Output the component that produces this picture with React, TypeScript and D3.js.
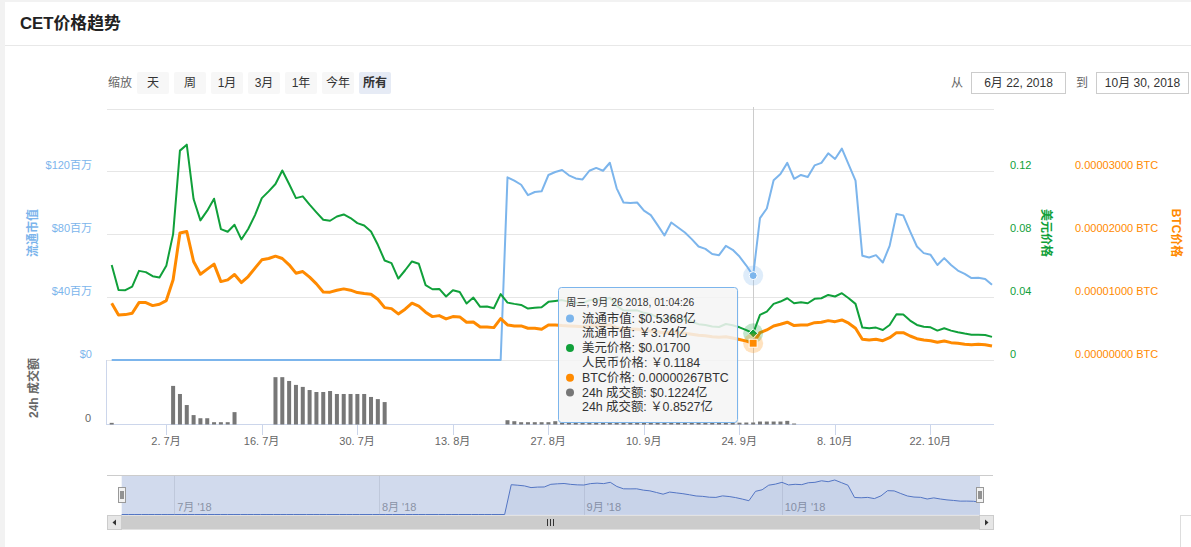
import React from 'react';
import * as d3 from 'd3';

const W = 1191;
const H = 547;

// first data point, one point per day
const startDay = new Date(2018, 5, 24, 1, 4, 26);
const hoverIndex = 94;
const cnyRate = 6.966;

// 流通市值 (百万 USD)
const marketCap = [
  0, 0, 0, 0, 0, 0, 0, 0, 0, 0, 0, 0, 0, 0, 0, 0, 0, 0, 0, 0,
  0, 0, 0, 0, 0, 0, 0, 0, 0, 0, 0, 0, 0, 0, 0, 0, 0, 0, 0, 0,
  0, 0, 0, 0, 0, 0, 0, 0, 0, 0, 0, 0, 0, 0, 0, 0, 0, 0,
  116.2, 114.1, 111.5, 104.9, 106.9, 107.3, 117.7, 119.6, 120.9, 117.5,
  115.5, 114.9, 120.4, 122.2, 120.4, 125.5, 109.2, 100.2, 99.9, 100.2,
  95.0, 92.2, 85.8, 79.2, 87.5, 84.3, 81.1, 76.9, 72.2, 70.7,
  67.4, 66.7, 72.6, 70.1, 65.8, 60.1, 53.68, 90.3, 96.4, 114.3,
  118.3, 125.4, 115.3, 117.7, 116.4, 123.8, 125.4, 131.5, 127.9, 134.5,
  124.3, 114.1, 66.3, 65.2, 66.7, 62.0, 72.6, 92.9, 92.0, 81.8,
  72.2, 68.0, 66.9, 60.4, 64.8, 60.4, 56.9, 54.8, 52.1, 52.3,
  51.6, 47.8,
];

// 美元价格
const usdPrice = [
  0.0604, 0.0446, 0.0444, 0.0467, 0.0567, 0.0559, 0.0533, 0.0525, 0.0599, 0.0801,
  0.1332, 0.1370, 0.1024, 0.0888, 0.0950, 0.1026, 0.0833, 0.0816, 0.0860, 0.0767,
  0.0833, 0.0922, 0.1030, 0.1073, 0.1120, 0.1206, 0.1120, 0.1030, 0.1041, 0.0988,
  0.0939, 0.0892, 0.0886, 0.0913, 0.0926, 0.0903, 0.0871, 0.0856, 0.0818, 0.0733,
  0.0633, 0.0616, 0.0518, 0.0571, 0.0627, 0.0612, 0.0476, 0.0450, 0.0452, 0.0404,
  0.0444, 0.0433, 0.0359, 0.0397, 0.0338, 0.0340, 0.0329, 0.0419, 0.0365, 0.0357,
  0.0350, 0.0327, 0.0333, 0.0336, 0.0370, 0.0376, 0.0381, 0.0371, 0.0364, 0.0362,
  0.0380, 0.0385, 0.0380, 0.0396, 0.0344, 0.0316, 0.0315, 0.0316, 0.0300, 0.0291,
  0.0271, 0.0250, 0.0276, 0.0266, 0.0256, 0.0243, 0.0228, 0.0223, 0.0213, 0.0210,
  0.0229, 0.0221, 0.0208, 0.0190, 0.0170, 0.0287, 0.0308, 0.0357, 0.0372, 0.0393,
  0.0361, 0.0368, 0.0361, 0.0389, 0.0393, 0.0414, 0.0404, 0.0425, 0.0393, 0.0357,
  0.0206, 0.0202, 0.0206, 0.0191, 0.0223, 0.0291, 0.0289, 0.0251, 0.0223, 0.0212,
  0.0208, 0.0187, 0.0202, 0.0187, 0.0176, 0.0168, 0.0161, 0.0161, 0.0159, 0.0147,
];

// BTC价格 (satoshi)
const btcPriceSat = [
  903, 717, 722, 744, 913, 913, 865, 887, 945, 1275,
  2019, 2044, 1566, 1365, 1445, 1525, 1247, 1275, 1359, 1232,
  1327, 1461, 1593, 1614, 1652, 1614, 1514, 1381, 1407, 1318,
  1211, 1083, 1079, 1110, 1131, 1110, 1072, 1056, 1047, 967,
  833, 817, 733, 808, 903, 856, 760, 690, 706, 653,
  690, 685, 601, 605, 526, 526, 515, 658, 558, 542,
  542, 505, 505, 489, 558, 558, 547, 540, 535, 530,
  540, 545, 540, 560, 515, 490, 495, 490, 470, 460,
  450, 430, 445, 435, 425, 410, 395, 385, 370, 360,
  370, 350, 325, 300, 267, 435, 478, 542, 569, 601,
  547, 558, 558, 594, 601, 626, 610, 637, 585, 505,
  330, 319, 330, 307, 355, 435, 435, 382, 339, 319,
  307, 282, 303, 276, 266, 250, 244, 250, 244, 223,
];

// 24h 成交额 (百万 USD)
const volume = [
  10, 0, 0, 0, 0, 0, 0, 0, 0, 234,
  185, 118, 57, 38, 38, 14, 14, 14, 75, 0,
  0, 0, 0, 0, 287, 287, 264, 240, 228, 209,
  197, 197, 203, 185, 185, 185, 185, 185, 167, 154,
  136, 0, 0, 0, 0, 0, 0, 0, 0, 0,
  0, 0, 0, 0, 0, 0, 0, 0, 26, 20,
  14, 14, 14, 14, 14, 20, 12, 12, 12, 12,
  12, 11, 12, 11, 12, 12, 11, 12, 12, 11,
  12, 12, 11, 12, 12, 11, 12, 12, 12, 11,
  12, 12, 11, 12, 12.241, 18, 18, 18, 18, 22,
  6, 0, 0, 0, 0, 0, 0, 0, 0, 0,
  0, 0, 0, 0, 0, 0, 0, 0, 0, 0,
  0, 0, 0, 0, 0, 0, 0, 0, 0, 0,
];

const xTickDates = [
  new Date(2018, 6, 2), new Date(2018, 6, 16), new Date(2018, 6, 30),
  new Date(2018, 7, 13), new Date(2018, 7, 27), new Date(2018, 8, 10),
  new Date(2018, 8, 24), new Date(2018, 9, 8), new Date(2018, 9, 22),
];
const navMonths = [new Date(2018, 6, 1), new Date(2018, 7, 1), new Date(2018, 8, 1), new Date(2018, 9, 1)];
const capTicks = [0, 40, 80, 120];
const usdTicks = [0, 0.04, 0.08, 0.12];
const btcTicks = [0, 1000, 2000, 3000];
const gridTicks = [0, 40, 80, 120, 160];
const rangeButtons = ['天', '周', '1月', '3月', '1年', '今年', '所有'];

const BLUE = '#7cb5ec';
const GREEN = '#10a03a';
const ORANGE = '#ff8a00';
const GRAY = '#777777';
const FONT = "'Liberation Sans', 'Noto Sans CJK SC', sans-serif";

const dates = marketCap.map((_, i) =>
  new Date(startDay.getFullYear(), startDay.getMonth(), startDay.getDate() + i, 1, 4, 26));

const weekDays = ['周日', '周一', '周二', '周三', '周四', '周五', '周六'];
const pad = (n: number) => String(n).padStart(2, '0');

export default function App() {
  const x = d3.scaleTime().domain([dates[0], dates[dates.length - 1]]).range([111.7, 992]);
  const yCap = d3.scaleLinear().domain([0, 160]).range([360, 108.5]);
  const yUsd = d3.scaleLinear().domain([0, 0.16]).range([360, 108.5]);
  const yBtc = d3.scaleLinear().domain([0, 4000]).range([360, 108.5]);
  const yVol = d3.scaleLinear().domain([0, 385]).range([424.5, 361]);

  const lineOf = (vals: number[], y: d3.ScaleLinear<number, number>) =>
    d3.line<number>().x((_, i) => x(dates[i])).y((v) => y(v))(vals) || '';

  // navigator
  const navX = d3.scaleTime()
    .domain([d3.timeDay.offset(dates[0], -1), dates[dates.length - 1]])
    .range([121.7, 980]);
  const navY = d3.scaleLinear().domain([0, d3.max(marketCap) as number]).range([514.5, 480]);
  const navPts: [number, number][] = [[navX.range()[0], navY(marketCap[0])],
    ...marketCap.map((v, i) => [navX(dates[i]), navY(v)] as [number, number])];
  const navLine = d3.line()(navPts) || '';
  const navArea = d3.area().y0(514.5)(navPts) || '';

  const h = hoverIndex;
  const hx = x(dates[h]);
  const hd = dates[h];
  const header = `${weekDays[hd.getDay()]}, ${hd.getMonth() + 1}月 ${hd.getDate()} ${hd.getFullYear()}, ${pad(hd.getHours())}:${pad(hd.getMinutes())}:${pad(hd.getSeconds())}`;
  const rows: [string | null, string][] = [
    [BLUE, `流通市值: $${(marketCap[h] / 100).toFixed(4)}亿`],
    [null, `流通市值: ￥${(marketCap[h] * cnyRate / 100).toFixed(2)}亿`],
    [GREEN, `美元价格: $${usdPrice[h].toFixed(5)}`],
    [null, `人民币价格: ￥${(usdPrice[h] * cnyRate).toFixed(4)}`],
    [ORANGE, `BTC价格: ${(btcPriceSat[h] / 1e8).toFixed(8)}BTC`],
    [GRAY, `24h 成交额: $${(volume[h] / 100).toFixed(4)}亿`],
    [null, `24h 成交额: ￥${(volume[h] * cnyRate / 100).toFixed(4)}亿`],
  ];

  const hyCap = yCap(marketCap[h]);
  const hyUsd = yUsd(usdPrice[h]);
  const hyBtc = yBtc(btcPriceSat[h]);

  return (
    <div style={{ position: 'absolute', left: 0, top: 0 }}>
      <svg width={W} height={H} style={{ display: 'block', fontFamily: FONT }}>
        <rect width={W} height={H} fill="#f2f2f2" />
        <rect x={5} y={2} width={W} height={H} fill="#fff" />
        <text x={20} y={29} fontSize={16.8} fontWeight="bold" fill="#222">CET价格趋势</text>
        <line x1={5} x2={W} y1={45.5} y2={45.5} stroke="#e8e8e8" />

        {/* range selector */}
        <text x={108} y={87} fontSize={12} fill="#666">缩放</text>
        {rangeButtons.map((b, i) => {
          const bx = 137 + i * 37;
          const sel = i === rangeButtons.length - 1;
          return (
            <g key={b}>
              <rect x={bx} y={72} width={32} height={22} rx={2} fill={sel ? '#e6ebf5' : '#f7f7f7'} />
              <text x={bx + 16} y={87} fontSize={12} textAnchor="middle" fill="#333" fontWeight={sel ? 'bold' : 'normal'}>{b}</text>
            </g>
          );
        })}
        <text x={951} y={87} fontSize={12} fill="#666">从</text>
        <rect x={971.5} y={72.5} width={94} height={21} fill="#fff" stroke="#cccccc" />
        <text x={1018.5} y={87} fontSize={12} textAnchor="middle" fill="#333">6月 22, 2018</text>
        <text x={1076} y={87} fontSize={12} fill="#666">到</text>
        <rect x={1096.5} y={72.5} width={92} height={21} fill="#fff" stroke="#cccccc" />
        <text x={1142.5} y={87} fontSize={12} textAnchor="middle" fill="#333">10月 30, 2018</text>

        {/* grid */}
        {gridTicks.map((t) => (
          <line key={t} x1={107} x2={994} y1={Math.round(yCap(t)) + 0.5} y2={Math.round(yCap(t)) + 0.5} stroke="#e6e6e6" />
        ))}

        {/* left axis labels */}
        {capTicks.map((t) => (
          <text key={t} x={92} y={yCap(t) - 2} fontSize={11} textAnchor="end" fill={BLUE}>
            {t === 0 ? '$0' : `$${t}百万`}
          </text>
        ))}
        <text transform="translate(37,233) rotate(-90)" fontSize={12} fontWeight={600} textAnchor="middle" fill={BLUE}>流通市值</text>
        {usdTicks.map((t) => (
          <text key={t} x={1010} y={yUsd(t) - 2} fontSize={11} fill={GREEN}>{t === 0 ? '0' : String(t)}</text>
        ))}
        <text transform="translate(1042,233) rotate(90)" fontSize={12} fontWeight={600} textAnchor="middle" fill={GREEN}>美元价格</text>
        {btcTicks.map((t) => (
          <text key={t} x={1075} y={yBtc(t) - 2} fontSize={11} fill={ORANGE}>{`${(t / 1e8).toFixed(8)} BTC`}</text>
        ))}
        <text transform="translate(1172,233) rotate(90)" fontSize={12} fontWeight={600} textAnchor="middle" fill={ORANGE}>BTC价格</text>

        {/* volume pane axis */}
        <line x1={106.5} x2={106.5} y1={360} y2={425} stroke="#ccd6eb" />
        <text x={91} y={yVol(0) - 2.5} fontSize={11} textAnchor="end" fill="#666">0</text>
        <text transform="translate(38,388) rotate(-90)" fontSize={12} fontWeight={600} textAnchor="middle" fill="#666">24h 成交额</text>

        {/* x axis */}
        <line x1={107} x2={994} y1={424.5} y2={424.5} stroke="#ccd6eb" />
        {xTickDates.map((d) => (
          <g key={d.getTime()}>
            <line x1={Math.round(x(d)) + 0.5} x2={Math.round(x(d)) + 0.5} y1={425} y2={435} stroke="#ccd6eb" />
            <text x={x(d)} y={445} fontSize={11} textAnchor="middle" fill="#666">{`${d.getDate()}. ${d.getMonth() + 1}月`}</text>
          </g>
        ))}

        {/* crosshair */}
        <line x1={Math.round(hx) + 0.5} x2={Math.round(hx) + 0.5} y1={107} y2={425} stroke="#cccccc" />

        {/* volume bars */}
        {volume.map((v, i) => v > 0 && (
          <rect key={i} x={x(dates[i]) - 2} y={yVol(v)} width={4} height={yVol(0) - yVol(v)} fill={GRAY} />
        ))}

        {/* series */}
        <path d={lineOf(marketCap, yCap)} fill="none" stroke={BLUE} strokeWidth={2} strokeLinejoin="round" />
        <path d={lineOf(usdPrice, yUsd)} fill="none" stroke={GREEN} strokeWidth={2} strokeLinejoin="round" />
        <path d={lineOf(btcPriceSat, yBtc)} fill="none" stroke={ORANGE} strokeWidth={3} strokeLinejoin="round" />

        {/* hover markers */}
        <circle cx={hx} cy={hyCap} r={10} fill={BLUE} opacity={0.25} />
        <circle cx={hx} cy={hyCap} r={4} fill={BLUE} stroke="#fff" />
        <circle cx={hx} cy={hyUsd} r={10} fill={GREEN} opacity={0.25} />
        <path d={`M${hx},${hyUsd - 4.5}L${hx + 4.5},${hyUsd}L${hx},${hyUsd + 4.5}L${hx - 4.5},${hyUsd}Z`} fill={GREEN} stroke="#fff" />
        <circle cx={hx} cy={hyBtc} r={10} fill={ORANGE} opacity={0.25} />
        <rect x={hx - 4} y={hyBtc - 4} width={8} height={8} fill={ORANGE} stroke="#fff" />

        {/* tooltip */}
        <rect x={559.5} y={288.5} width={179} height={136} rx={3} fill="rgba(0,0,0,0.06)" />
        <rect x={558.5} y={287.5} width={179} height={135} rx={3} fill="rgba(247,247,247,0.85)" stroke={BLUE} />
        <text x={566} y={306} fontSize={10.3} fill="#333">{header}</text>
        {rows.map(([c, t], k) => {
          const ty = 322.5 + k * 14.8;
          return (
            <g key={k}>
              {c && <circle cx={570} cy={ty - 4} r={4} fill={c} />}
              <text x={582} y={ty} fontSize={12.4} fill="#333">{t}</text>
            </g>
          );
        })}

        {/* navigator */}
        <line x1={107} x2={993} y1={475.5} y2={475.5} stroke="#cccccc" />
        {navMonths.map((d) => (
          <g key={d.getTime()}>
            <line x1={Math.round(navX(d)) + 0.5} x2={Math.round(navX(d)) + 0.5} y1={476} y2={515} stroke="#e6e6e6" />
            <text x={navX(d) + 3} y={511} fontSize={11} fill="#999">{`${d.getMonth() + 1}月 '18`}</text>
          </g>
        ))}
        <path d={navArea} fill="rgba(51,92,173,0.06)" />
        <path d={navLine} fill="none" stroke="#4b6fc4" strokeWidth={1} />
        <rect x={121.7} y={476} width={980 - 121.7} height={39} fill="rgba(102,133,194,0.3)" />
        {[121.7, 980].map((hxp) => (
          <g key={hxp}>
            <rect x={Math.round(hxp) - 3.5} y={487.5} width={7} height={15} fill="#f2f2f2" stroke="#999" />
            <line x1={Math.round(hxp) - 1} x2={Math.round(hxp) - 1} y1={491} y2={499} stroke="#333" />
            <line x1={Math.round(hxp) + 1} x2={Math.round(hxp) + 1} y1={491} y2={499} stroke="#333" />
          </g>
        ))}

        {/* scrollbar */}
        <rect x={107} y={515.5} width={886} height={14} fill="#f2f2f2" />
        <rect x={121.5} y={515.5} width={858} height={14} fill="#cccccc" />
        {[550, 553, 556].map((gx) => (
          <line key={gx} x1={gx - 2.5} x2={gx - 2.5} y1={519} y2={526} stroke="#333" />
        ))}
        <rect x={107.5} y={515.5} width={14} height={14} fill="#e6e6e6" stroke="#cccccc" />
        <path d="M116,519.5L116,525.5L112.5,522.5Z" fill="#333" />
        <rect x={979.5} y={515.5} width={14} height={14} fill="#e6e6e6" stroke="#cccccc" />
        <path d="M985,519.5L985,525.5L988.5,522.5Z" fill="#333" />

        <rect x={1180.5} y={515.5} width={30} height={40} fill="#fff" stroke="#dddddd" />
      </svg>
    </div>
  );
}
